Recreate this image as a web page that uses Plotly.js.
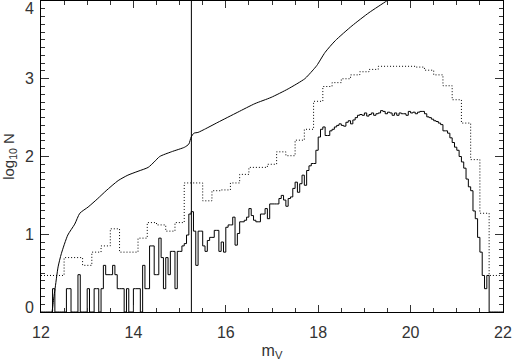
<!DOCTYPE html>
<html>
<head>
<meta charset="utf-8">
<script src="https://cdn.plot.ly/plotly-3.0.1.min.js"></script>
<style>html,body{margin:0;padding:0;background:#fff;}#chart{width:512px;height:361px;}</style>
</head>
<body>
<div id="chart"></div>
<script>
// ---- data ----
// fine histogram (solid step), bins of 0.05 mag starting at 12.0
const fineBinStart = 12.0;
const fineBinWidth = 0.05;
const fineLogN = [
  0,0,0,0,0,0.30,0,0,0,0,0,0.30,0.30,0,0,0,0.48,0,0,0,
  0.30,0,0,0.30,0.30,0,0.30,0.60,0.48,0.48,0.48,0.60,0.48,0.30,0.30,0.30,0,0.30,0,0,
  0.30,0.30,0.30,0,0.60,0.30,0.30,0.85,0.85,0.48,0.48,0.95,0.70,0.30,0.70,0.48,0.78,0.78,0.30,0.78,
  0.78,0.85,0.88,0.99,1.26,1.29,1.04,0.60,1.04,1.04,0.85,0.78,0.92,0.96,0.96,1.05,1.05,0.78,0.90,0.77,
  1.09,1.12,1.12,1.22,0.86,1.01,1.16,1.16,1.18,1.22,1.33,1.24,1.18,1.16,1.16,1.26,1.26,1.33,1.20,1.39,
  1.39,1.39,1.39,1.46,1.50,1.44,1.36,1.46,1.48,1.59,1.67,1.54,1.65,1.76,1.63,1.82,1.88,1.91,1.91,2.08,
  2.25,2.35,2.38,2.27,2.27,2.33,2.35,2.38,2.40,2.42,2.40,2.39,2.44,2.46,2.42,2.47,2.50,2.53,2.54,2.53,
  2.56,2.52,2.54,2.56,2.53,2.55,2.56,2.59,2.58,2.55,2.57,2.56,2.53,2.56,2.53,2.56,2.55,2.55,2.53,2.58,
  2.56,2.57,2.55,2.57,2.58,2.58,2.55,2.51,2.50,2.48,2.46,2.45,2.43,2.41,2.33,2.33,2.30,2.24,2.18,2.12,
  2.08,2.00,1.93,1.85,1.71,1.61,1.56,1.30,1.20,0.96,0.77,0.47,0.30,0.47,0,0,0,0,0,0
];

// coarse histogram (dotted step): bin edges and values
const coarseEdges = [12.0,12.5,12.9,13.1,13.3,13.5,13.7,14.1,14.3,14.5,14.7,14.9,15.1,15.5,15.7,15.9,
  16.1,16.3,16.5,16.7,16.9,17.1,17.3,17.5,17.7,17.9,18.1,18.3,18.5,18.7,18.9,19.1,19.3,19.5,19.7,19.9,
  20.1,20.3,20.5,20.7,20.9,21.1,21.3,21.5,21.7,22.0];
const coarseLogN = [0.47,0.70,0.60,0.77,0.85,1.07,0.77,0.95,1.15,1.12,1.04,1.15,1.66,1.43,1.56,1.57,
  1.66,1.77,1.86,1.86,1.90,2.06,2.01,2.21,2.35,2.71,2.90,2.95,3.00,3.05,3.09,3.12,3.16,3.16,3.16,3.16,
  3.15,3.11,3.05,2.91,2.73,2.43,1.96,1.27,0.47];

// cumulative curve (smooth solid)
const cumMag = [12.24,12.26,12.28,12.30,12.37,12.44,12.58,12.73,12.84,13.02,13.23,13.41,13.67,13.88,14.10,
  14.32,14.45,14.57,14.82,15.11,15.20,15.25,15.31,15.40,15.54,15.83,16.26,16.63,16.98,17.35,17.71,17.87,
  17.97,18.15,18.37,18.73,19.10,19.48,19.60];
const cumLogN = [0,0.10,0.20,0.28,0.58,0.75,0.99,1.13,1.27,1.35,1.46,1.56,1.69,1.76,1.81,
  1.86,1.93,2.00,2.06,2.12,2.16,2.25,2.30,2.31,2.35,2.44,2.57,2.68,2.76,2.87,3.00,3.10,
  3.17,3.34,3.49,3.68,3.85,4.00,4.05];

// vertical marker
const markerMag = 15.255;

// tick labels
const xTickVals = [12,14,16,18,20,22];
const yTickVals = [0,1,2,3,4];
const yTickText = ['0','1','2','3','4'];

// ---- build step traces ----
const fineX = [], fineY = [];
for (let i = 0; i < fineLogN.length; i++) {
  fineX.push(fineBinStart + i * fineBinWidth);
  fineY.push(fineLogN[i]);
}
fineX.push(fineBinStart + fineLogN.length * fineBinWidth);
fineY.push(fineLogN[fineLogN.length - 1]);

const coarseY = coarseLogN.concat([coarseLogN[coarseLogN.length - 1]]);

const traces = [
  {x: coarseEdges, y: coarseY, mode: 'lines', line: {shape: 'hv', color: '#000', width: 1, dash: '1px,2px'}, hoverinfo: 'skip'},
  {x: fineX, y: fineY, mode: 'lines', line: {shape: 'hv', color: '#000', width: 1}, hoverinfo: 'skip'},
  {x: cumMag, y: cumLogN, mode: 'lines', line: {shape: 'spline', smoothing: 0.6, color: '#000', width: 1}, hoverinfo: 'skip'},
  {x: [markerMag, markerMag], y: [0, 4], mode: 'lines', line: {color: '#000', width: 1}, hoverinfo: 'skip'}
];

const tickFont = {family: 'Liberation Sans, Arial, sans-serif', size: 16, color: '#333'};

const annotations = yTickVals.map((v, i) => ({
  x: 0, xref: 'paper', y: v, yref: 'y', text: yTickText[i], showarrow: false,
  xanchor: 'right', yanchor: 'middle', xshift: -5,
  yshift: (v === 0 ? 5 : (v === 4 ? -7 : 0)), font: tickFont
}));

const layout = {
  width: 512, height: 361,
  margin: {l: 41, r: 9, t: 1, b: 49},
  paper_bgcolor: '#fff', plot_bgcolor: '#fff',
  showlegend: false,
  xaxis: {
    range: [12, 22], tickvals: xTickVals, ticks: 'inside', ticklen: 7, tickwidth: 1, tickcolor: '#333',
    minor: {dtick: 0.5, ticks: 'inside', ticklen: 4, tickcolor: '#333', showgrid: false},
    showline: true, linecolor: '#000', linewidth: 1, mirror: 'ticks',
    showgrid: false, zeroline: false, tickfont: tickFont, ticklabelstandoff: 6,
    title: {text: 'm<sub>V</sub>', font: {family: 'Liberation Sans, Arial, sans-serif', size: 16, color: '#333'}, standoff: 6}
  },
  yaxis: {
    range: [0, 4], tickvals: yTickVals, ticks: 'inside', ticklen: 8, tickwidth: 1, tickcolor: '#333',
    minor: {dtick: 0.1, ticks: 'inside', ticklen: 4, tickcolor: '#333', showgrid: false},
    showline: true, linecolor: '#000', linewidth: 1, mirror: 'ticks',
    showgrid: false, zeroline: false, showticklabels: false,
    title: {text: 'log<sub>10</sub> N', font: {family: 'Liberation Sans, Arial, sans-serif', size: 15, color: '#333'}, standoff: 22}
  },
  annotations: annotations
};

Plotly.newPlot('chart', traces, layout, {staticPlot: true, displayModeBar: false});
</script>
</body>
</html>
